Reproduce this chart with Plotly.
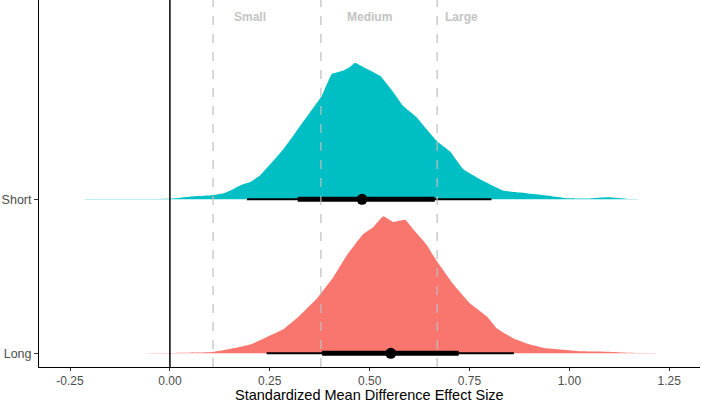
import plotly.graph_objects as go

# Categories
groups = ["Long", "Short"]
colors = {"Long": "#F8766D", "Short": "#00BFC4"}

# Posterior density
short_x = [-0.256, -0.15, 0.0, 0.06, 0.107, 0.134, 0.157, 0.177, 0.201, 0.226, 0.251, 0.284, 0.317, 0.351,
           0.380, 0.405, 0.430, 0.451, 0.463, 0.484, 0.526, 0.559, 0.584, 0.617, 0.642, 0.668, 0.701,
           0.734, 0.768, 0.801, 0.834, 0.876, 0.917, 0.957, 0.997, 1.047, 1.097, 1.147, 1.25]
short_d = [0.0, 0.004, 0.01, 0.058, 0.077, 0.115, 0.19, 0.27, 0.33, 0.46, 0.67, 0.96, 1.31, 1.67,
           1.98, 2.40, 2.46, 2.54, 2.62, 2.54, 2.37, 2.06, 1.79, 1.58, 1.35, 1.12, 0.92,
           0.58, 0.42, 0.29, 0.17, 0.13, 0.096, 0.058, 0.019, 0.015, 0.038, 0.006, 0.0]

long_x = [-0.223, -0.1, 0.0, 0.108, 0.159, 0.201, 0.242, 0.284, 0.326, 0.367, 0.380, 0.409, 0.443, 0.484,
          0.509, 0.534, 0.559, 0.589, 0.609, 0.643, 0.668, 0.709, 0.751, 0.793, 0.818, 0.859, 0.901,
          0.943, 0.984, 1.027, 1.097, 1.147, 1.25]
long_d = [0.0, 0.002, 0.006, 0.025, 0.096, 0.17, 0.31, 0.46, 0.73, 1.04, 1.17, 1.46, 1.88, 2.29,
          2.42, 2.63, 2.52, 2.56, 2.38, 2.08, 1.77, 1.33, 0.96, 0.71, 0.48, 0.29, 0.17,
          0.096, 0.067, 0.038, 0.029, 0.01, 0.0]

# Point intervals: median, 66% and 95%
medians = {"Short": 0.481, "Long": 0.553}
inner_lo = {"Short": 0.320, "Long": 0.381}
inner_hi = {"Short": 0.663, "Long": 0.723}
outer_lo = {"Short": 0.193, "Long": 0.242}
outer_hi = {"Short": 0.805, "Long": 0.861}

# Effect size thresholds
thresholds = [0.108, 0.378, 0.669]
threshold_labels = ["Small", "Medium", "Large"]
label_x = [0.20, 0.50, 0.73]

xticks = [-0.25, 0.0, 0.25, 0.5, 0.75, 1.0, 1.25]
xtick_text = ["-0.25", "0.00", "0.25", "0.50", "0.75", "1.00", "1.25"]

dens = {"Short": (short_x, short_d), "Long": (long_x, long_d)}
ypos = {g: i for i, g in enumerate(groups)}
dmax = max(max(short_d), max(long_d))
scale = 0.89 / dmax

fig = go.Figure()

for g in ["Short", "Long"]:
    xs, ds = dens[g]
    base = ypos[g]
    px = list(xs) + list(xs[::-1])
    py = [base + d * scale for d in ds] + [base] * len(xs)
    fig.add_trace(go.Scatter(x=px, y=py, fill="toself", fillcolor=colors[g], mode="lines",
                             line=dict(width=0, color=colors[g], shape="spline", smoothing=0.3),
                             hoverinfo="skip", showlegend=False))

for g in ["Short", "Long"]:
    b = ypos[g]
    fig.add_trace(go.Scatter(x=[outer_lo[g], outer_hi[g]], y=[b, b], mode="lines",
                             line=dict(color="black", width=2), showlegend=False))
    fig.add_trace(go.Scatter(x=[inner_lo[g], inner_hi[g]], y=[b, b], mode="lines",
                             line=dict(color="black", width=5), showlegend=False))
    fig.add_trace(go.Scatter(x=[medians[g]], y=[b], mode="markers",
                             marker=dict(color="black", size=11), showlegend=False))

shapes = [dict(type="line", xref="x", yref="paper", x0=0, x1=0, y0=0, y1=1,
               line=dict(color="black", width=1.5), layer="above")]
for t in thresholds:
    shapes.append(dict(type="line", xref="x", yref="paper", x0=t, x1=t, y0=0, y1=1,
                       line=dict(color="#BEBEBE", width=1.2, dash="dash"), layer="above"))

annotations = [dict(x=lx, y=2.184, xref="x", yref="y", text="<b>%s</b>" % lab, showarrow=False,
                    font=dict(size=12, color="#C4C4C4", family="Liberation Sans"))
               for lx, lab in zip(label_x, threshold_labels)]
annotations.append(dict(x=0.5, xref="paper", y=-0.0763, yref="paper", yanchor="middle",
                        text="Standardized Mean Difference Effect Size", showarrow=False,
                        borderpad=0,
                        font=dict(size=14.5, color="black", family="Liberation Sans")))

fig.update_layout(
    width=702, height=403,
    margin=dict(l=39, r=2, t=0, b=36),
    paper_bgcolor="white", plot_bgcolor="white",
    font=dict(family="Liberation Sans", size=12, color="#4D4D4D"),
    shapes=shapes, annotations=annotations,
    xaxis=dict(range=[-0.3277, 1.327], tickvals=xticks, ticktext=xtick_text,
               showgrid=False, zeroline=False, showline=True, linecolor="black", linewidth=1,
               ticks="outside", ticklen=3, tickcolor="#333333", automargin=False,
               tickfont=dict(size=12, color="#4D4D4D")),
    yaxis=dict(range=[-0.089, 2.294], tickvals=[0, 1], ticktext=groups,
               showgrid=False, zeroline=False, showline=True, linecolor="black", linewidth=1,
               ticks="outside", ticklen=4, tickcolor="#333333", automargin=False,
               tickfont=dict(size=12.5, color="#4D4D4D")),
)

fig.write_html("out.html", config={"displayModeBar": False},
               post_script="document.body.style.margin='0';document.body.style.overflow='hidden';")
